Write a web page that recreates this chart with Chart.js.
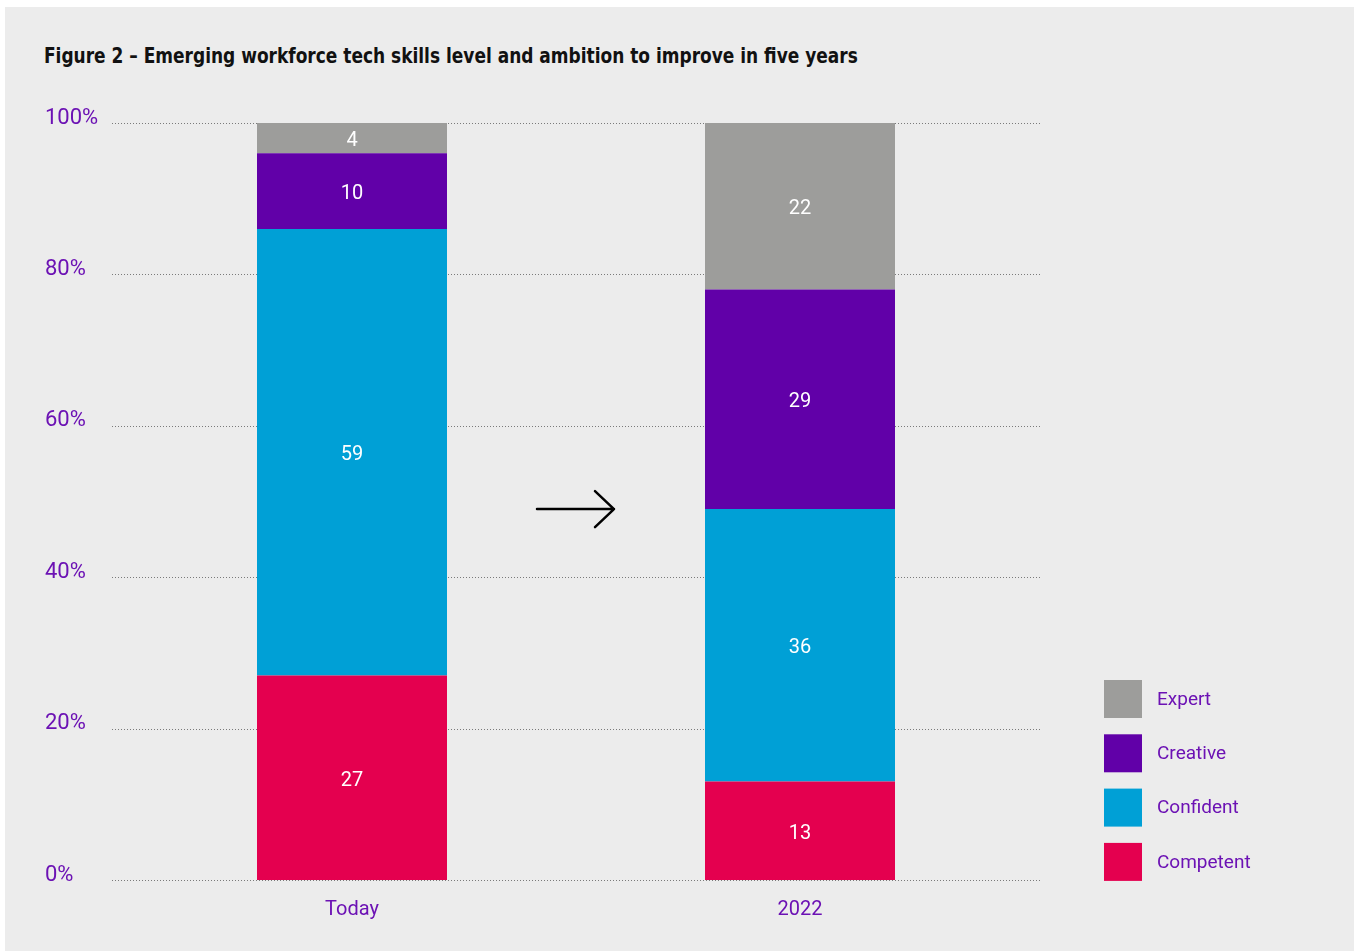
<!DOCTYPE html>
<html>
<head>
<meta charset="utf-8">
<script src="https://cdn.jsdelivr.net/npm/chart.js@4.4.1/dist/chart.umd.min.js"></script>
<style>
  html, body { margin: 0; padding: 0; background: #fff; }
  body { width: 1354px; height: 951px; position: relative; overflow: hidden; }
  #panel { position: absolute; left: 5px; top: 7px; right: 0; bottom: 0; background: #ececec; }
  #title {
    position: absolute; left: 44px; top: 46px; margin: 0;
    font-family: "DejaVu Sans Condensed", "Liberation Sans Narrow", sans-serif;
    font-weight: bold; font-size: 21px; line-height: 1; color: #111;
    white-space: nowrap; transform-origin: left top; transform: scaleX(0.9);
  }
  #wrap { position: absolute; left: 0; top: 0; width: 1354px; height: 951px; }
</style>
</head>
<body>
<div id="panel"></div>
<h1 id="title">Figure 2 – Emerging workforce tech skills level and ambition to improve in five years</h1>
<div id="wrap"><canvas id="skills-chart"></canvas></div>
<script>
// data (percent of respondents)
const categories = ['Today', '2022'];
const competent = [27, 13];
const confident = [59, 36];
const creative = [10, 29];
const expert = [4, 22];
const yTicks = [0, 20, 40, 60, 80, 100];

const purpleText = '#6c12b4';
const baseFont = 'Roboto, "Noto Sans", sans-serif';

// dotted grid lines, running a little past the bars on both sides
const dottedGrid = {
    id: 'dottedGrid',
    beforeDatasetsDraw(chart) {
        const { ctx, chartArea, scales } = chart;
        ctx.save();
        ctx.strokeStyle = '#7a7a7a';
        ctx.lineWidth = 1;
        ctx.setLineDash([1, 2]);
        yTicks.forEach(v => {
            const y = Math.round(scales.y.getPixelForValue(v)) + 0.5;
            ctx.beginPath();
            ctx.moveTo(chartArea.left - 16, y);
            ctx.lineTo(chartArea.right + 17, y);
            ctx.stroke();
        });
        ctx.restore();
    }
};

// white value labels in the middle of each segment, plus the arrow
const segmentLabels = {
    id: 'segmentLabels',
    afterDatasetsDraw(chart) {
        const { ctx, scales } = chart;
        ctx.save();
        ctx.fillStyle = '#ffffff';
        ctx.font = '20px ' + baseFont;
        ctx.textAlign = 'center';
        ctx.textBaseline = 'middle';
        chart.data.datasets.forEach((ds, i) => {
            chart.getDatasetMeta(i).data.forEach((bar, j) => {
                const mid = (bar.y + bar.base) / 2 + 3;
                ctx.fillText(String(ds.data[j]), bar.x, mid);
            });
        });

        // arrow between the two bars
        const x0 = scales.x.getPixelForValue(0);
        const x1 = scales.x.getPixelForValue(1);
        const cx = (x0 + x1) / 2;
        const cy = scales.y.getPixelForValue(49);
        ctx.strokeStyle = '#000';
        ctx.lineWidth = 2.5;
        ctx.lineCap = 'round';
        ctx.lineJoin = 'round';
        ctx.beginPath();
        ctx.moveTo(cx - 39, cy);
        ctx.lineTo(cx + 38, cy);
        ctx.moveTo(cx + 19, cy - 18);
        ctx.lineTo(cx + 38, cy);
        ctx.lineTo(cx + 19, cy + 18);
        ctx.stroke();
        ctx.restore();
    }
};

// legend on the right, Expert on top
const sideLegend = {
    id: 'sideLegend',
    afterDraw(chart) {
        const { ctx } = chart;
        const items = chart.data.datasets.slice().reverse();
        ctx.save();
        ctx.font = '19px ' + baseFont;
        ctx.textAlign = 'left';
        ctx.textBaseline = 'middle';
        items.forEach((ds, i) => {
            const top = 680 + i * 54.3;
            ctx.fillStyle = ds.backgroundColor;
            ctx.fillRect(1104, top, 38, 38);
            ctx.fillStyle = purpleText;
            ctx.fillText(ds.label, 1157, top + 20);
        });
        ctx.restore();
    }
};

const ctx = document.getElementById('skills-chart').getContext('2d');
const chart = new Chart(ctx, {
    type: 'bar',
    data: {
        labels: categories,
        datasets: [
            { label: 'Competent', data: competent, backgroundColor: '#e4004f' },
            { label: 'Confident', data: confident, backgroundColor: '#00a0d6' },
            { label: 'Creative', data: creative, backgroundColor: '#6100a8' },
            { label: 'Expert', data: expert, backgroundColor: '#9d9d9b' }
        ]
    },
    options: {
        responsive: true,
        maintainAspectRatio: false,
        animation: false,
        layout: { padding: { left: 45, right: 330, top: 123, bottom: 31 } },
        plugins: {
            legend: { display: false },
            tooltip: { enabled: false }
        },
        datasets: {
            bar: { categoryPercentage: 1, barPercentage: 190 / 448, borderWidth: 0 }
        },
        scales: {
            x: {
                stacked: true,
                afterFit(scale) { scale.height = 40; },
                grid: { display: false },
                border: { display: false },
                ticks: {
                    color: purpleText,
                    font: { family: baseFont, size: 20 },
                    padding: 10
                }
            },
            y: {
                stacked: true,
                min: 0,
                max: 100,
                afterFit(scale) { scale.width = 83; },
                afterBuildTicks(scale) { scale.ticks = yTicks.map(v => ({ value: v })); },
                grid: { display: false },
                border: { display: false },
                ticks: {
                    color: purpleText,
                    crossAlign: 'far',
                    labelOffset: -5,
                    font: { family: baseFont, size: 22 },
                    callback: v => v + '%'
                }
            }
        }
    },
    plugins: [dottedGrid, segmentLabels, sideLegend]
});
</script>
</body>
</html>
